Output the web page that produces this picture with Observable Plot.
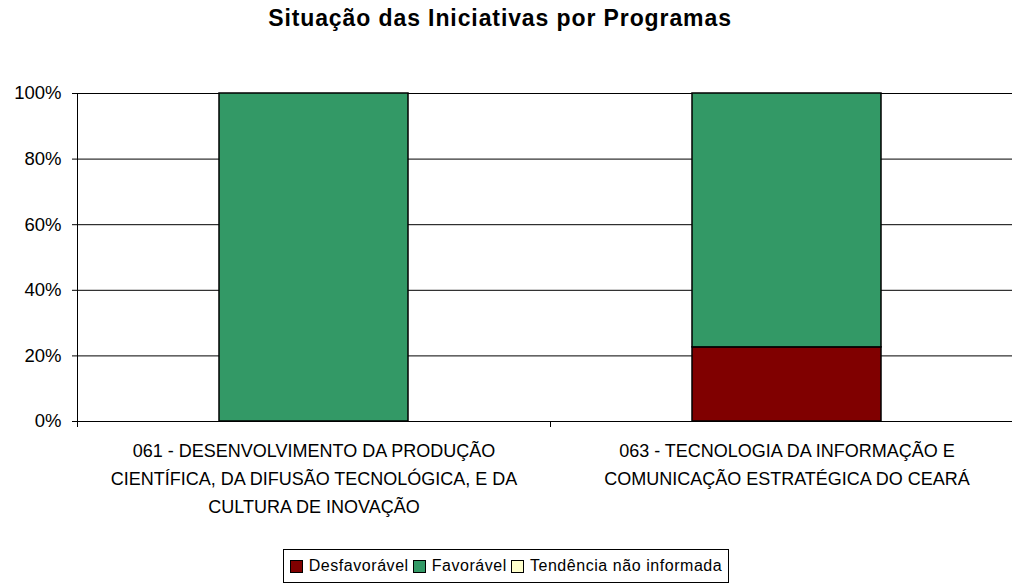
<!DOCTYPE html>
<html>
<head>
<meta charset="utf-8">
<script src="https://cdn.jsdelivr.net/npm/d3@7"></script>
<script src="https://cdn.jsdelivr.net/npm/@observablehq/plot@0.6"></script>
<style>
  html, body { margin: 0; padding: 0; background: #fff; }
  body { width: 1012px; height: 588px; overflow: hidden; font-family: "Liberation Sans", Arial, sans-serif; }
  #title { height: 50px; box-sizing: border-box; padding-top: 5px; padding-right: 12px; text-align: center; font-weight: bold; font-size: 23px; line-height: 26px; color: #000; letter-spacing: 0.9px; }
  #chart svg { display: block; }
  #legend-wrap { height: 48px; display: flex; justify-content: center; align-items: flex-start; }
  #legend { margin-top: 9px; border: 1px solid #000; height: 34px; box-sizing: border-box; display: flex; align-items: center; padding: 0 6px 0 6px; font-size: 16px; letter-spacing: 0.55px; color: #000; }
  .item { display: flex; align-items: center; margin-right: 4px; }
  .item:last-child { margin-right: 0; }
  .sw { width: 11px; height: 11px; border: 1px solid #000; margin-right: 6px; box-sizing: content-box; }
</style>
</head>
<body>
<div id="title">Situação das Iniciativas por Programas</div>
<div id="chart"></div>
<div id="legend-wrap"><div id="legend"></div></div>
<script>
// ---- data ----
const programs = ["061", "063"];
const programLabels = [
  "061 - DESENVOLVIMENTO DA PRODUÇÃO\nCIENTÍFICA, DA DIFUSÃO TECNOLÓGICA, E DA\nCULTURA DE INOVAÇÃO",
  "063 - TECNOLOGIA DA INFORMAÇÃO E\nCOMUNICAÇÃO ESTRATÉGICA DO CEARÁ"
];
const statuses = ["Desfavorável", "Favorável", "Tendência não informada"];
const statusColors = ["#800000", "#339966", "#FFFFCC"];
const desfavoravel = [0, 0.226];
const favoravel = [1, 0.774];
const tendencia = [0, 0];
const yTicks = [0, 0.2, 0.4, 0.6, 0.8, 1];

const seriesValues = [desfavoravel, favoravel, tendencia];
const rows = [];
programs.forEach((p, i) => {
  statuses.forEach((s, j) => rows.push({program: p, status: s, value: seriesValues[j][i]}));
});
const labelOf = new Map(programs.map((p, i) => [p, programLabels[i]]));

function categoryFrame(index, scales, values, dims) {
  const x = scales.x, y = scales.y;
  const step = x.step ? x.step() : (dims.width - dims.marginLeft - dims.marginRight) / programs.length;
  const bw = x.bandwidth ? x.bandwidth() : step * 0.4;
  const left = x(programs[0]) - (step - bw) / 2;
  const y0 = y(0), y1 = y(1);
  const g = d3.create("svg:g").attr("stroke", "#000").attr("stroke-width", 1).attr("shape-rendering", "crispEdges");
  g.append("line").attr("x1", left).attr("x2", left).attr("y1", y1).attr("y2", y0 + 6);
  for (let i = 0; i <= programs.length; i++) {
    const bx = left + i * step;
    g.append("line").attr("x1", bx).attr("x2", bx).attr("y1", y0).attr("y2", y0 + 6);
  }
  return g.node();
}

const chart = Plot.plot({
  width: 1012,
  height: 490,
  marginTop: 43,
  marginBottom: 119,
  marginLeft: 77,
  marginRight: 0,
  style: {fontFamily: "'Liberation Sans', Arial, sans-serif", color: "#000", background: "#fff"},
  x: {domain: programs, range: [77, 1023], paddingInner: 0.6, paddingOuter: 0.3, align: 0.5},
  y: {domain: [0, 1], label: null},
  color: {domain: statuses, range: statusColors},
  marks: [
    Plot.gridY(yTicks, {stroke: "#000", strokeOpacity: 1, strokeWidth: 1}),
    Plot.axisY(yTicks, {tickFormat: d3.format(".0%"), tickSize: 5, tickPadding: 11, fontSize: 18.5, stroke: "#000", label: null}),
    Plot.axisX({tickSize: 0, tickPadding: 16, fontSize: 18, lineHeight: 1.55, tickFormat: d => labelOf.get(d), label: null}),
    Plot.barY(rows, Plot.stackY({x: "program", y: "value", fill: "status", order: statuses, stroke: "#000", strokeWidth: 1.5})),
    categoryFrame
  ]
});
document.getElementById("chart").appendChild(chart);

const legend = d3.select("#legend");
statuses.forEach((s, i) => {
  const it = legend.append("div").attr("class", "item");
  it.append("div").attr("class", "sw").style("background", statusColors[i]);
  it.append("span").text(s);
});
</script>
</body>
</html>
